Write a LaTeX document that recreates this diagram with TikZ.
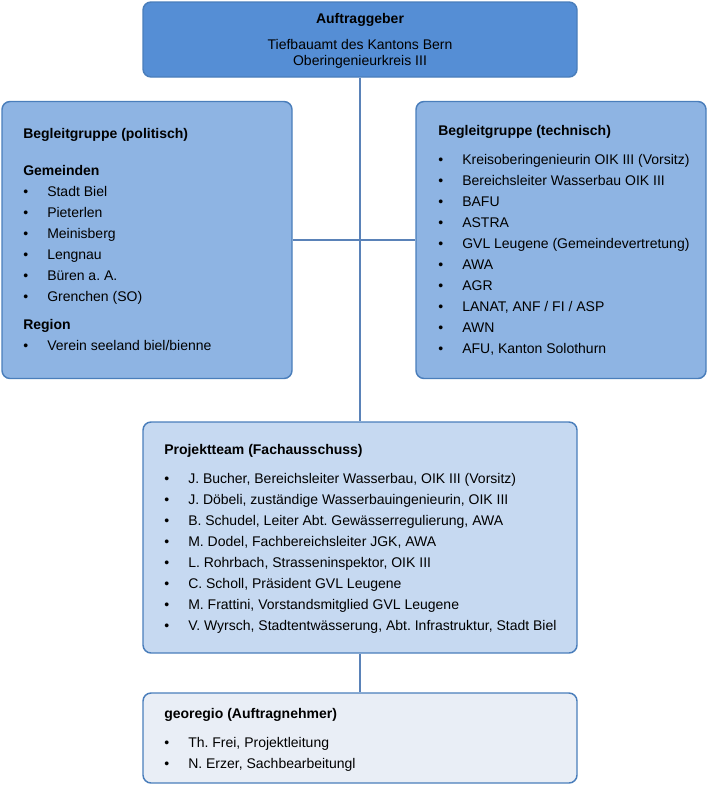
\documentclass[tikz,border=0pt]{standalone}
\usepackage{fontspec}
\setmainfont{Liberation Sans}
\frenchspacing
\definecolor{cTop}{HTML}{558ED5}
\definecolor{cSide}{HTML}{8EB4E3}
\definecolor{cProj}{HTML}{C6D9F1}
\definecolor{cGeo}{HTML}{E9EEF6}
\definecolor{cLine}{HTML}{4A7EBB}
\definecolor{cConn}{HTML}{5A82B8}
\begin{document}
\begin{tikzpicture}[x=0.75pt,y=-0.75pt,
  box/.style={draw=cLine, line width=1.1pt, rounded corners=6pt, inner sep=0pt},
  txt/.style={anchor=west, inner sep=0pt, font=\fontsize{10.5}{12}\selectfont, text height=7.5pt, text depth=0pt},
  ttl/.style={txt, font=\fontsize{10.5}{12}\selectfont\bfseries},
  ctr/.style={txt, anchor=center},
  conn/.style={draw=cConn, line width=1.2pt}]
\useasboundingbox (0,0) rectangle (708,786);
% boxes
\node[box, fill=cTop, minimum width={434*0.75pt}, minimum height={75*0.75pt}] (top) at (360,39.5) {};
\node[box, fill=cSide, minimum width={290*0.75pt}, minimum height={277*0.75pt}] (left) at (147,240) {};
\node[box, fill=cSide, minimum width={290*0.75pt}, minimum height={277*0.75pt}] (right) at (561,240) {};
\node[box, fill=cProj, minimum width={434*0.75pt}, minimum height={231*0.75pt}] (proj) at (360,537.5) {};
\node[box, fill=cGeo, minimum width={434*0.75pt}, minimum height={90*0.75pt}] (geo) at (360,738) {};
% connectors
\draw[conn] (top.south) -- (proj.north);
\draw[conn] (left.east) -- (right.west);
\draw[conn] (proj.south) -- (geo.north);
% top
\node[ctr, font=\fontsize{10.5}{12}\selectfont\bfseries] (topT) at (360,18) {Auftraggeber};
\node[ctr] (topA) at (360,44) {Tiefbauamt des Kantons Bern};
\node[ctr] (topB) at (360,60) {Oberingenieurkreis III};
% left
\node[ttl] (lT) at (23,133) {Begleitgruppe (politisch)};
\node[ttl] (lG) at (23,170) {Gemeinden};
\foreach \t [count=\i] in {Stadt Biel, Pieterlen, Meinisberg, Lengnau, Büren a. A., Grenchen (SO)} {
  \node[txt] (lb\i) at ({23},{170+21*\i}) {•};
  \node[txt] (lt\i) at ({47},{170+21*\i}) {\t};
}
\node[ttl] (lR) at (23,324) {Region};
\node[txt] (lbR) at (23,345) {•};
\node[txt] (ltR) at (47,345) {Verein seeland biel/bienne};
% right
\node[ttl] (rT) at (438,130) {Begleitgruppe (technisch)};
\foreach \t [count=\i] in {Kreisoberingenieurin OIK III (Vorsitz), Bereichsleiter Wasserbau OIK III, BAFU, ASTRA, GVL Leugene (Gemeindevertretung), AWA, AGR, {LANAT, ANF / FI / ASP}, AWN, {AFU, Kanton Solothurn}} {
  \node[txt] (rb\i) at ({438},{138+21*\i}) {•};
  \node[txt] (rt\i) at ({462},{138+21*\i}) {\t};
}
% project team
\node[ttl] (pT) at (164,449) {Projektteam (Fachausschuss)};
\foreach \t [count=\i] in {{J. Bucher, Bereichsleiter Wasserbau, OIK III (Vorsitz)}, {J. Döbeli, zuständige Wasserbauingenieurin, OIK III}, {B. Schudel, Leiter Abt. Gewässerregulierung, AWA}, {M. Dodel, Fachbereichsleiter JGK, AWA}, {L. Rohrbach, Strasseninspektor, OIK III}, {C. Scholl, Präsident GVL Leugene}, {M. Frattini, Vorstandsmitglied GVL Leugene}, {V. Wyrsch, Stadtentwässerung, Abt. Infrastruktur, Stadt Biel}} {
  \node[txt] (pb\i) at ({164},{457+21*\i}) {•};
  \node[txt] (pt\i) at ({188},{457+21*\i}) {\t};
}
% georegio
\node[ttl] (gT) at (164,713) {georegio (Auftragnehmer)};
\node[txt] (gb1) at (164,742) {•};
\node[txt] (gt1) at (188,742) {Th. Frei, Projektleitung};
\node[txt] (gb2) at (164,763) {•};
\node[txt] (gt2) at (188,763) {N. Erzer, Sachbearbeitungl};
\end{tikzpicture}
\end{document}
